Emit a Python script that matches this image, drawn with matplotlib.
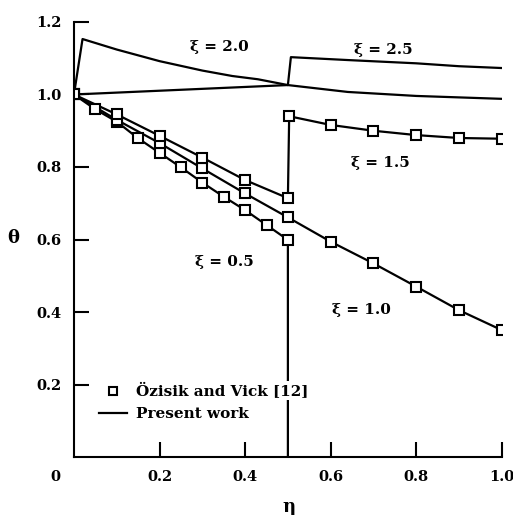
import matplotlib.pyplot as plt

# Ozisik and Vick [12] data (markers)
eta_05 = [0.0, 0.05, 0.1, 0.15, 0.2, 0.25, 0.3, 0.35, 0.4, 0.45, 0.5]
theta_05 = [1.0, 0.959, 0.925, 0.879, 0.839, 0.799, 0.757, 0.718, 0.681, 0.640, 0.599]

eta_10 = [0.0, 0.1, 0.2, 0.3, 0.4, 0.5, 0.6, 0.7, 0.8, 0.9, 1.0]
theta_10 = [1.0, 0.930, 0.866, 0.796, 0.727, 0.661, 0.594, 0.534, 0.470, 0.405, 0.350]

eta_15 = [0.0, 0.1, 0.2, 0.3, 0.4, 0.5, 0.503, 0.6, 0.7, 0.8, 0.9, 1.0]
theta_15 = [1.0, 0.945, 0.886, 0.826, 0.764, 0.714, 0.940, 0.916, 0.900, 0.888, 0.880, 0.878]

# Present work (lines)
line_eta_05 = eta_05 + [0.5]
line_theta_05 = theta_05 + [0.0]

line_eta_20 = [0.0, 0.02, 0.1, 0.2, 0.3, 0.37, 0.43, 0.5, 0.64, 0.8, 1.0]
line_theta_20 = [1.0, 1.153, 1.124, 1.092, 1.066, 1.051, 1.042, 1.026, 1.007, 0.996, 0.988]

line_eta_25 = [0.0, 0.5, 0.507, 0.64, 0.8, 0.9, 1.0]
line_theta_25 = [1.0, 1.026, 1.103, 1.095, 1.086, 1.078, 1.073]

curve_labels = ['ξ = 2.0', 'ξ = 2.5', 'ξ = 1.5', 'ξ = 0.5', 'ξ = 1.0']
label_x = [0.34, 0.723, 0.716, 0.351, 0.672]
label_y = [1.131, 1.123, 0.811, 0.538, 0.406]

xticks = [0.2, 0.4, 0.6, 0.8, 1.0]
yticks = [0.2, 0.4, 0.6, 0.8, 1.0, 1.2]

plt.rcParams['font.family'] = 'DejaVu Serif'
plt.rcParams['font.weight'] = 'bold'

fig = plt.figure(figsize=(5.13, 5.15), dpi=100)
ax = fig.add_axes([0.1442, 0.1126, 0.834, 0.8447])

lw = 1.6
ax.plot(line_eta_05, line_theta_05, color='k', lw=lw)
ax.plot(eta_10, theta_10, color='k', lw=lw)
ax.plot(eta_15, theta_15, color='k', lw=lw)
ax.plot(line_eta_20, line_theta_20, color='k', lw=lw)
ax.plot(line_eta_25, line_theta_25, color='k', lw=lw, label='Present work')

mk = dict(ls='none', marker='s', ms=6.5, mfc='white', mec='k', mew=1.5)
ax.plot(eta_05, theta_05, **mk)
ax.plot(eta_10, theta_10, **mk)
ax.plot(eta_15, theta_15, **mk, label='Özisik and Vick [12]')

for t, x, y in zip(curve_labels, label_x, label_y):
    ax.text(x, y, t, ha='center', va='center', fontsize=11, fontweight='bold')

ax.set_xlim(0, 1.0)
ax.set_ylim(0, 1.2)
ax.set_xticks(xticks)
ax.set_xticklabels(['%.1f' % v for v in xticks])
ax.set_yticks(yticks)
ax.set_yticklabels(['%.1f' % v for v in yticks])
ax.tick_params(direction='in', length=11, width=1.5, labelsize=10.5, pad=9)
for s in ['top', 'right']:
    ax.spines[s].set_visible(False)
for s in ['left', 'bottom']:
    ax.spines[s].set_linewidth(1.5)

ax.text(-0.044, -0.046, '0', transform=ax.transAxes, ha='center', va='center', fontsize=10.5, fontweight='bold')
ax.text(-0.142, 0.503, 'θ', transform=ax.transAxes, ha='center', va='center', fontsize=13, fontweight='bold')
ax.text(0.503, -0.115, 'η', transform=ax.transAxes, ha='center', va='center', fontsize=13, fontweight='bold')

handles, labels = ax.get_legend_handles_labels()
leg = ax.legend(handles[::-1], labels[::-1], loc='lower left', bbox_to_anchor=(0.045, 0.068),
                frameon=False, fontsize=11, handlelength=1.8, handletextpad=0.6,
                labelspacing=0.55, borderaxespad=0, markerscale=0.8)
leg.get_texts()[0].set_bbox(dict(facecolor='white', edgecolor='none', pad=1))

fig.savefig('out.png', dpi=100)
